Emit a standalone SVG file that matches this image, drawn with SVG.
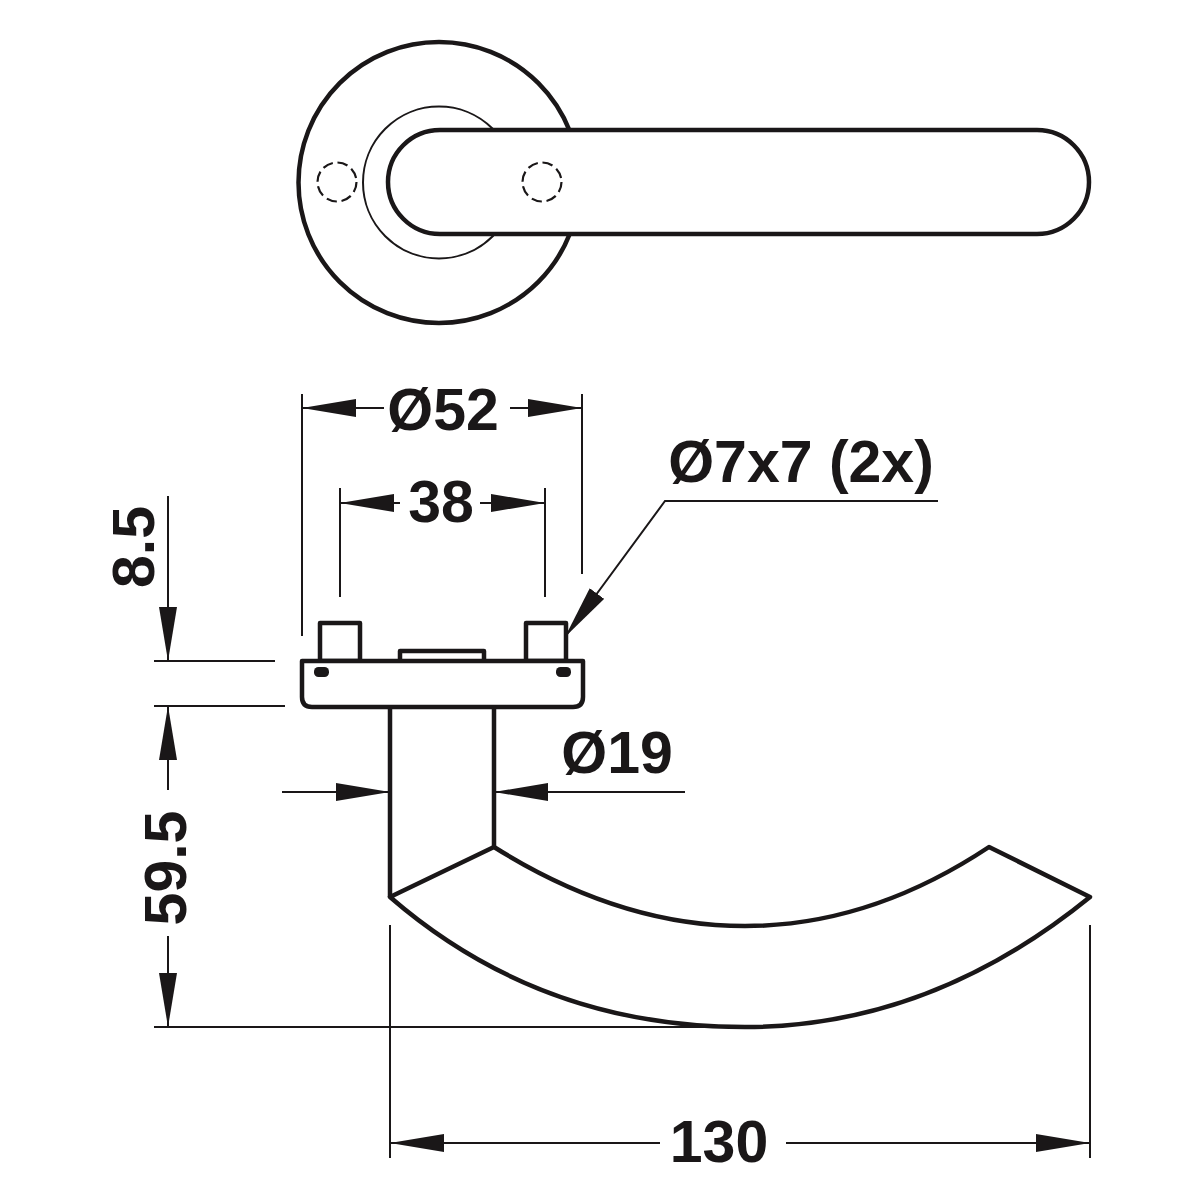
<svg xmlns="http://www.w3.org/2000/svg" width="1200" height="1200" viewBox="0 0 1200 1200">
<defs>
<marker id="arr" viewBox="0 0 54 18" refX="54" refY="9" markerWidth="54" markerHeight="18" markerUnits="userSpaceOnUse" orient="auto-start-reverse"><path d="M0 0L54 9L0 18Z" fill="#1a1718"/></marker>
</defs>
<style>
.o{fill:none;stroke:#1a1718;stroke-width:4.5;stroke-linejoin:round}
.w{fill:#fff;stroke:#1a1718;stroke-width:4.5;stroke-linejoin:round}
.t{fill:none;stroke:#1a1718;stroke-width:2}
.d{fill:none;stroke:#1a1718;stroke-width:2.2;stroke-dasharray:10.5 4.8}
.l{fill:none;stroke:#1a1718;stroke-width:2}
.a{fill:none;stroke:#1a1718;stroke-width:2;marker-end:url(#arr)}
text{font-family:"Liberation Sans",Arial,sans-serif;font-weight:700;font-size:59px;fill:#1a1718;text-anchor:middle}
</style>
<rect width="1200" height="1200" fill="#fff"/>
<g id="front-view">
<circle class="o" cx="439" cy="182.5" r="140.5"/>
<circle class="t" cx="439" cy="182.5" r="76"/>
<rect class="w" x="388" y="130" width="701" height="104" rx="52"/>
<circle class="d" cx="337" cy="182" r="19.5"/>
<circle class="d" cx="542" cy="182" r="19.5"/>
</g>
<g id="side-view">
<rect class="o" x="320" y="623" width="40" height="38"/>
<rect class="o" x="526" y="623" width="40" height="38"/>
<path class="o" d="M400 660V651H484V660"/>
<path class="w" d="M302 661H583V697Q583 707 573 707H312Q302 707 302 697Z"/>
<rect x="314" y="667" width="15" height="10" rx="4.5" fill="#1a1718"/>
<rect x="556" y="667" width="15" height="10" rx="4.5" fill="#1a1718"/>
<path class="o" d="M390 708V897M494 708V847"/>
<path class="w" d="M390 897L494 847Q620 926 745 926Q870 926 989 847L1090 897Q930 1027 745 1027Q540 1027 390 897Z"/>
</g>
<g id="connectors">
<path class="l" d="M302 394V636M582 394V574M340 488V597M545 488V597M154 661H275M154 706H285M154 1027H720M390 925V1158M1090 925V1158"/>
<path class="a" d="M384 408H302"/><path class="a" d="M510 408H582"/>
<path class="a" d="M400 503H340"/><path class="a" d="M480 503H545"/>
<path class="a" d="M168 496V661"/><path class="a" d="M168 790V706"/><path class="a" d="M168 936V1027"/>
<path class="a" d="M282 792H390"/><path class="a" d="M685 792H494"/>
<path class="a" d="M660 1143H390"/><path class="a" d="M786 1143H1090"/>
<path class="a" d="M938 501H665L565 637"/>
</g>
<g id="labels">
<text x="443" y="430">Ø52</text>
<text x="441" y="522">38</text>
<text x="801" y="482">Ø7x7 (2x)</text>
<text x="617" y="773">Ø19</text>
<text x="719" y="1162">130</text>
<text transform="translate(154 547) rotate(-90)">8.5</text>
<text transform="translate(186 868) rotate(-90)">59.5</text>
</g>
</svg>
